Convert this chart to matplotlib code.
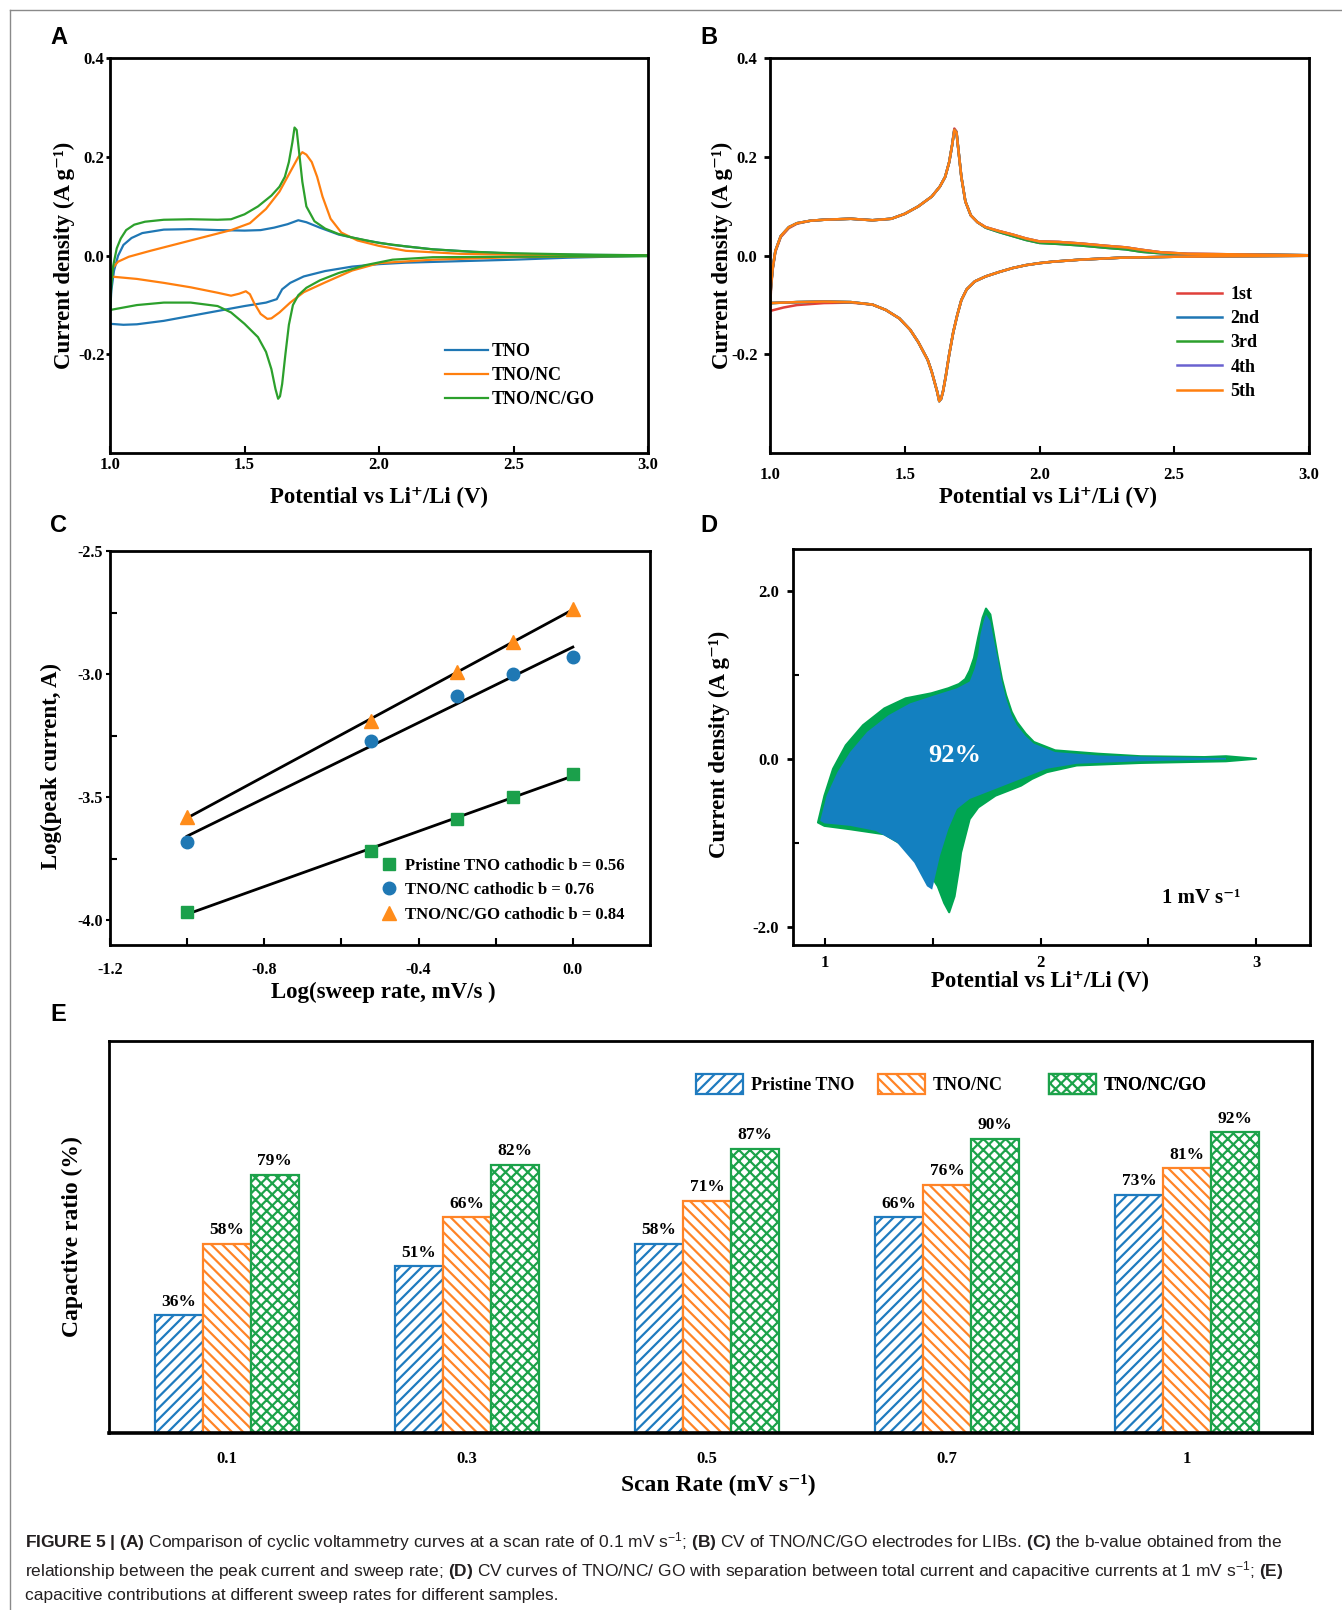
import matplotlib
matplotlib.use('Agg')
import matplotlib.pyplot as plt
import numpy as np
from matplotlib.lines import Line2D

# ---------------- data ----------------
# Panel A : CV curves at 0.1 mV/s (anodic "up" branch 1->3 V, cathodic "dn" branch 3->1 V)
A_TNO_up_x = [1.0, 1.005, 1.015, 1.03, 1.05, 1.08, 1.12, 1.2, 1.3, 1.4, 1.5, 1.56, 1.61, 1.66, 1.70, 1.73, 1.78, 1.85, 1.95, 2.05, 2.2, 2.35, 2.5, 2.7, 3.0]
A_TNO_up_y = [-0.12, -0.07, -0.03, 0.0, 0.022, 0.036, 0.046, 0.053, 0.054, 0.052, 0.051, 0.052, 0.057, 0.064, 0.072, 0.068, 0.057, 0.043, 0.031, 0.022, 0.013, 0.008, 0.004, 0.002, 0.001]
A_TNO_dn_x = [3.0, 2.7, 2.5, 2.3, 2.1, 2.0, 1.9, 1.8, 1.72, 1.67, 1.64, 1.62, 1.58, 1.5, 1.4, 1.3, 1.2, 1.1, 1.05, 1.0]
A_TNO_dn_y = [0.0, -0.004, -0.008, -0.011, -0.014, -0.017, -0.022, -0.031, -0.042, -0.055, -0.068, -0.088, -0.095, -0.102, -0.112, -0.122, -0.132, -0.139, -0.14, -0.138]

A_NC_up_x = [1.0, 1.01, 1.03, 1.07, 1.15, 1.25, 1.35, 1.45, 1.52, 1.58, 1.63, 1.67, 1.70, 1.715, 1.73, 1.75, 1.77, 1.79, 1.82, 1.86, 1.92, 2.0, 2.1, 2.3, 2.5, 2.8, 3.0]
A_NC_up_y = [-0.042, -0.025, -0.012, -0.002, 0.01, 0.024, 0.038, 0.052, 0.066, 0.095, 0.13, 0.17, 0.2, 0.21, 0.205, 0.19, 0.16, 0.12, 0.075, 0.047, 0.031, 0.02, 0.01, 0.004, 0.002, 0.001, 0.0]
A_NC_dn_x = [3.0, 2.5, 2.2, 2.0, 1.9, 1.8, 1.72, 1.67, 1.63, 1.6, 1.585, 1.56, 1.535, 1.52, 1.505, 1.48, 1.45, 1.4, 1.3, 1.2, 1.1, 1.0]
A_NC_dn_y = [0.0, -0.003, -0.008, -0.015, -0.03, -0.054, -0.074, -0.095, -0.115, -0.127, -0.128, -0.118, -0.095, -0.078, -0.072, -0.077, -0.081, -0.075, -0.064, -0.055, -0.047, -0.042]

A_GO_up_x = [1.0, 1.005, 1.012, 1.025, 1.04, 1.06, 1.09, 1.13, 1.2, 1.3, 1.4, 1.45, 1.5, 1.55, 1.6, 1.63, 1.65, 1.665, 1.678, 1.686, 1.694, 1.703, 1.715, 1.73, 1.76, 1.8, 1.85, 1.9, 2.0, 2.1, 2.2, 2.35, 2.5, 2.8, 3.0]
A_GO_up_y = [-0.11, -0.06, -0.02, 0.015, 0.035, 0.052, 0.063, 0.069, 0.073, 0.074, 0.073, 0.074, 0.084, 0.1, 0.122, 0.14, 0.16, 0.19, 0.23, 0.26, 0.255, 0.21, 0.15, 0.1, 0.07, 0.055, 0.044, 0.037, 0.026, 0.019, 0.013, 0.008, 0.005, 0.002, 0.001]
A_GO_dn_x = [3.0, 2.5, 2.2, 2.05, 1.95, 1.85, 1.78, 1.73, 1.7, 1.68, 1.665, 1.652, 1.64, 1.632, 1.625, 1.615, 1.6, 1.58, 1.55, 1.5, 1.45, 1.4, 1.3, 1.2, 1.1, 1.0]
A_GO_dn_y = [-0.001, -0.002, -0.003, -0.008, -0.019, -0.035, -0.05, -0.065, -0.08, -0.1, -0.14, -0.2, -0.26, -0.285, -0.29, -0.27, -0.23, -0.195, -0.165, -0.138, -0.115, -0.102, -0.095, -0.095, -0.1, -0.11]
A_labels = ['TNO', 'TNO/NC', 'TNO/NC/GO']

# Panel B : five cycles of TNO/NC/GO
B_up_x = [1.0, 1.004, 1.01, 1.02, 1.04, 1.07, 1.1, 1.15, 1.2, 1.3, 1.38, 1.45, 1.5, 1.55, 1.6, 1.63, 1.65, 1.665, 1.676, 1.684, 1.692, 1.70, 1.71, 1.725, 1.745, 1.77, 1.8, 1.85, 1.9, 1.95, 2.0, 2.07, 2.15, 2.25, 2.32, 2.38, 2.45, 2.55, 2.7, 2.85, 3.0]
B_up_y_c1 = [-0.112, -0.065, -0.028, 0.008, 0.038, 0.056, 0.065, 0.071, 0.073, 0.075, 0.072, 0.075, 0.085, 0.1, 0.12, 0.14, 0.16, 0.19, 0.225, 0.258, 0.252, 0.21, 0.16, 0.11, 0.082, 0.068, 0.058, 0.05, 0.043, 0.035, 0.029, 0.028, 0.025, 0.02, 0.017, 0.012, 0.007, 0.004, 0.003, 0.002, 0.001]
B_up_y_c23 = [-0.096, -0.06, -0.025, 0.01, 0.04, 0.058, 0.066, 0.071, 0.073, 0.075, 0.072, 0.075, 0.085, 0.1, 0.12, 0.14, 0.16, 0.19, 0.225, 0.255, 0.25, 0.21, 0.16, 0.11, 0.082, 0.068, 0.057, 0.048, 0.04, 0.032, 0.026, 0.024, 0.021, 0.016, 0.013, 0.008, 0.005, 0.003, 0.002, 0.002, 0.001]
B_up_y_c45 = [-0.096, -0.06, -0.025, 0.01, 0.04, 0.058, 0.066, 0.071, 0.073, 0.075, 0.072, 0.075, 0.085, 0.1, 0.12, 0.14, 0.16, 0.19, 0.225, 0.255, 0.25, 0.21, 0.16, 0.11, 0.082, 0.068, 0.058, 0.05, 0.043, 0.035, 0.029, 0.028, 0.025, 0.02, 0.017, 0.012, 0.007, 0.004, 0.003, 0.002, 0.001]
B_dn_x = [3.0, 2.7, 2.5, 2.3, 2.15, 2.05, 2.0, 1.95, 1.9, 1.85, 1.8, 1.76, 1.73, 1.71, 1.695, 1.68, 1.665, 1.652, 1.642, 1.635, 1.628, 1.62, 1.61, 1.6, 1.585, 1.55, 1.52, 1.48, 1.43, 1.38, 1.3, 1.2, 1.1, 1.05, 1.0]
B_dn_y_c1 = [0.0, -0.001, -0.002, -0.004, -0.008, -0.012, -0.015, -0.019, -0.025, -0.033, -0.042, -0.052, -0.068, -0.09, -0.12, -0.155, -0.2, -0.245, -0.275, -0.29, -0.293, -0.275, -0.255, -0.235, -0.211, -0.175, -0.15, -0.127, -0.11, -0.099, -0.095, -0.096, -0.1, -0.105, -0.112]
B_dn_y = [0.0, -0.001, -0.002, -0.004, -0.008, -0.012, -0.015, -0.019, -0.025, -0.033, -0.042, -0.052, -0.068, -0.09, -0.12, -0.155, -0.2, -0.245, -0.275, -0.29, -0.295, -0.275, -0.255, -0.235, -0.211, -0.175, -0.15, -0.127, -0.11, -0.099, -0.094, -0.093, -0.094, -0.095, -0.096]
B_labels = ['1st', '2nd', '3rd', '4th', '5th']

# Panel C : log(peak current) vs log(sweep rate)
C_x = [-1.0, -0.523, -0.301, -0.155, 0.0]
C_TNO = [-3.967, -3.72, -3.587, -3.50, -3.405]
C_NC = [-3.68, -3.27, -3.09, -3.0, -2.93]
C_GO = [-3.58, -3.19, -2.99, -2.87, -2.735]
C_labels = ['Pristine TNO cathodic b = 0.56', 'TNO/NC cathodic b = 0.76', 'TNO/NC/GO cathodic b = 0.84']

# Panel D : total (green) and capacitive (blue) CV at 1 mV/s
D_tot_x = [0.966, 0.996, 1.036, 1.095, 1.175, 1.274, 1.373, 1.492, 1.571, 1.62, 1.65, 1.67, 1.69, 1.71, 1.73, 1.746, 1.766, 1.78, 1.80, 1.82, 1.839, 1.865, 1.889, 1.93, 1.968, 2.067, 2.266, 2.464, 2.76, 2.86, 3.0,
           2.86, 2.464, 2.167, 2.028, 1.96, 1.909, 1.85, 1.79, 1.71, 1.67, 1.65, 1.63, 1.62, 1.60, 1.575, 1.552, 1.522, 1.472, 1.393, 1.274, 1.115, 0.996]
D_tot_y = [-0.76, -0.44, -0.12, 0.16, 0.40, 0.60, 0.72, 0.78, 0.84, 0.89, 0.95, 1.05, 1.2, 1.45, 1.68, 1.79, 1.72, 1.52, 1.22, 0.95, 0.76, 0.56, 0.44, 0.30, 0.20, 0.10, 0.06, 0.03, 0.02, 0.03, 0.0,
           -0.03, -0.05, -0.08, -0.16, -0.24, -0.32, -0.38, -0.44, -0.58, -0.72, -0.92, -1.12, -1.32, -1.64, -1.83, -1.72, -1.52, -1.32, -1.08, -0.90, -0.84, -0.80]
D_cap_x = [0.976, 1.006, 1.056, 1.115, 1.194, 1.294, 1.393, 1.512, 1.611, 1.67, 1.694, 1.71, 1.72, 1.735, 1.746, 1.766, 1.78, 1.80, 1.82, 1.839, 1.865, 1.889, 1.93, 1.968, 2.067, 2.266, 2.563, 2.86,
           2.86, 2.464, 2.167, 2.028, 1.909, 1.79, 1.67, 1.611, 1.571, 1.532, 1.496, 1.472, 1.413, 1.333, 1.234, 1.115, 0.996]
D_cap_y = [-0.74, -0.44, -0.16, 0.08, 0.32, 0.52, 0.66, 0.76, 0.84, 0.92, 1.08, 1.25, 1.48, 1.64, 1.72, 1.64, 1.45, 1.20, 0.92, 0.72, 0.52, 0.40, 0.27, 0.18, 0.08, 0.04, 0.02, 0.01,
           -0.01, -0.03, -0.06, -0.12, -0.24, -0.36, -0.48, -0.60, -0.84, -1.16, -1.56, -1.52, -1.24, -1.00, -0.86, -0.80, -0.77]
D_ratio = '92%'

# Panel E : capacitive ratio
E_rates = ['0.1', '0.3', '0.5', '0.7', '1']
E_TNO = [36, 51, 58, 66, 73]
E_NC = [58, 66, 71, 76, 81]
E_GO = [79, 82, 87, 90, 92]
E_labels = ['Pristine TNO', 'TNO/NC', 'TNO/NC/GO']

caption_lines = [
    r"$\mathbf{FIGURE\ 5\ |\ (A)}$ Comparison of cyclic voltammetry curves at a scan rate of 0.1 mV s$^{-1}$; $\mathbf{(B)}$ CV of TNO/NC/GO electrodes for LIBs. $\mathbf{(C)}$ the b-value obtained from the",
    r"relationship between the peak current and sweep rate; $\mathbf{(D)}$ CV curves of TNO/NC/ GO with separation between total current and capacitive currents at 1 mV s$^{-1}$; $\mathbf{(E)}$",
    r"capacitive contributions at different sweep rates for different samples.",
]

# ---------------- style ----------------
SERIF = ['Liberation Serif', 'DejaVu Serif']
SANS = ['Liberation Sans', 'DejaVu Sans']
plt.rcParams.update({
    'font.family': SERIF,
    'font.weight': 'bold',
    'axes.unicode_minus': False,
    'mathtext.fontset': 'custom',
    'mathtext.rm': 'Liberation Sans:weight=normal',
    'mathtext.it': 'Liberation Sans:style=italic:weight=normal',
    'mathtext.bf': 'Liberation Sans:weight=bold',
    'mathtext.sf': 'Liberation Sans:weight=normal',
    'hatch.linewidth': 1.6,
})

BLUE = '#1f77b4'
ORANGE = '#ff7f0e'
GREEN = '#2ca02c'
RED = '#e0403a'
PURPLE = '#6a62d0'

W, H = 1342, 1610
fig = plt.figure(figsize=(W / 100, H / 100), dpi=100)


def rect(l, t, r, b):
    return [l / W, 1 - b / H, (r - l) / W, (b - t) / H]


def spines(ax, lw=2.0):
    for s in ax.spines.values():
        s.set_linewidth(lw)


def set_xlabel_px(ax, text, ycen, l, t, r, b, size=16.5, xcen=None):
    ax.set_xlabel(text, fontsize=size, fontweight='bold')
    xa = 0.5 if xcen is None else (xcen - l) / (r - l)
    ax.xaxis.set_label_coords(xa, 1 - (ycen - t) / (b - t))
    ax.xaxis.label.set_verticalalignment('center')


def set_ylabel_px(ax, text, xcen, l, t, r, b, size=16.5, ycen=None):
    ax.set_ylabel(text, fontsize=size, fontweight='bold')
    ya = 0.5 if ycen is None else 1 - (ycen - t) / (b - t)
    ax.yaxis.set_label_coords((xcen - l) / (r - l), ya)
    ax.yaxis.label.set_verticalalignment('center')


# figure frame lines
fig.add_artist(Line2D([10 / W, 10 / W], [0, 1 - 10 / H], transform=fig.transFigure, color='#8a8a8a', lw=1.0))
fig.add_artist(Line2D([10 / W, 1], [1 - 10 / H, 1 - 10 / H], transform=fig.transFigure, color='#8a8a8a', lw=1.0))

# panel letters
for letter, (px, py) in zip('ABCDE', [(58.5, 37), (708.5, 37), (58.5, 525), (708.5, 525), (58.5, 1014)]):
    fig.text(px / W, 1 - py / H, letter, family=SANS, fontweight='bold', fontsize=17, ha='center', va='center')

# ---------------- Panel A ----------------
L, T, R, B = 110, 58.5, 648, 453
axA = fig.add_axes(rect(L, T, R, B))
for ux, uy, dx, dy, c, lab in [(A_TNO_up_x, A_TNO_up_y, A_TNO_dn_x, A_TNO_dn_y, BLUE, A_labels[0]),
                               (A_NC_up_x, A_NC_up_y, A_NC_dn_x, A_NC_dn_y, ORANGE, A_labels[1]),
                               (A_GO_up_x, A_GO_up_y, A_GO_dn_x, A_GO_dn_y, GREEN, A_labels[2])]:
    axA.plot(ux + dx, uy + dy, color=c, lw=1.6, label=lab)
axA.set_xlim(1.0, 3.0)
axA.set_ylim(-0.4, 0.4)
axA.set_xticks([1.0, 1.5, 2.0, 2.5, 3.0])
axA.set_yticks([-0.2, 0.0, 0.2, 0.4])
axA.yaxis.set_major_formatter(matplotlib.ticker.FormatStrFormatter('%.1f'))
axA.xaxis.set_major_formatter(matplotlib.ticker.FormatStrFormatter('%.1f'))
axA.tick_params(axis='x', direction='in', length=5, width=1.5, labelsize=12, pad=3)
axA.tick_params(axis='y', direction='out', length=3, width=2, labelsize=12, pad=1)
spines(axA)
set_xlabel_px(axA, 'Potential vs Li⁺/Li (V)', 497, L, T, R, B)
set_ylabel_px(axA, 'Current density (A g⁻¹)', 64, L, T, R, B)
axA.legend(loc='upper left', bbox_to_anchor=((445 - L) / (R - L), 1 - (343 - T) / (B - T)), frameon=False,
           fontsize=13, handlelength=2.4, handletextpad=0.17, labelspacing=0.4, borderpad=0, borderaxespad=0)

# ---------------- Panel B ----------------
L, T, R, B = 770, 58.5, 1309, 453
axB = fig.add_axes(rect(L, T, R, B))
for uy, dy, c, lab in [(B_up_y_c1, B_dn_y_c1, RED, B_labels[0]),
                       (B_up_y_c23, B_dn_y, BLUE, B_labels[1]),
                       (B_up_y_c23, B_dn_y, GREEN, B_labels[2]),
                       (B_up_y_c45, B_dn_y, PURPLE, B_labels[3]),
                       (B_up_y_c45, B_dn_y, ORANGE, B_labels[4])]:
    axB.plot(B_up_x + B_dn_x, uy + dy, color=c, lw=1.8, label=lab)
axB.set_xlim(1.0, 3.0)
axB.set_ylim(-0.4, 0.4)
axB.set_xticks([1.0, 1.5, 2.0, 2.5, 3.0])
axB.set_yticks([-0.2, 0.0, 0.2, 0.4])
axB.yaxis.set_major_formatter(matplotlib.ticker.FormatStrFormatter('%.1f'))
axB.xaxis.set_major_formatter(matplotlib.ticker.FormatStrFormatter('%.1f'))
axB.tick_params(axis='x', direction='in', length=5, width=1.5, labelsize=12, pad=10)
axB.tick_params(axis='y', direction='out', length=4, width=2, labelsize=12, pad=5)
spines(axB)
set_xlabel_px(axB, 'Potential vs Li⁺/Li (V)', 497, L, T, R, B, xcen=1048)
set_ylabel_px(axB, 'Current density (A g⁻¹)', 722, L, T, R, B)
axB.legend(loc='upper left', bbox_to_anchor=((1177 - L) / (R - L), 1 - (286 - T) / (B - T)), frameon=False,
           fontsize=13, handlelength=2.5, handletextpad=0.45, labelspacing=0.4, borderpad=0, borderaxespad=0)

# ---------------- Panel C ----------------
L, T, R, B = 110, 551, 650, 945
axC = fig.add_axes(rect(L, T, R, B))
for ys, c, m, ms, lab in [(C_TNO, '#1ba04b', 's', 8, C_labels[0]),
                          (C_NC, '#1f78b4', 'o', 9, C_labels[1]),
                          (C_GO, '#ff8c1a', '^', 10, C_labels[2])]:
    coef = np.polyfit(C_x, ys, 1)
    xx = np.array([C_x[0], C_x[-1]])
    axC.plot(xx, np.polyval(coef, xx), color='black', lw=2, zorder=2)
    axC.plot(C_x, ys, linestyle='none', marker=m, ms=ms, color=c, mec=c, label=lab, zorder=3)
axC.set_xlim(-1.2, 0.2)
axC.set_ylim(-4.1, -2.5)
axC.set_xticks([-1.2, -0.8, -0.4, 0.0])
axC.set_xticks([-1.0, -0.6, -0.2], minor=True)
axC.set_yticks([-4.0, -3.5, -3.0, -2.5])
axC.set_yticks([-3.75, -3.25, -2.75], minor=True)
axC.xaxis.set_major_formatter(matplotlib.ticker.FormatStrFormatter('%.1f'))
axC.yaxis.set_major_formatter(matplotlib.ticker.FormatStrFormatter('%.1f'))
axC.tick_params(axis='x', which='both', direction='in', length=5, width=1.5, labelsize=11.5, pad=12)
axC.tick_params(axis='y', which='major', direction='out', length=3, width=1.5, labelsize=11.5, pad=2)
axC.tick_params(axis='y', which='minor', direction='in', length=5, width=1.5)
spines(axC)
set_xlabel_px(axC, 'Log(sweep rate, mV/s )', 992, L, T, R, B, xcen=383)
set_ylabel_px(axC, 'Log(peak current, A)', 51, L, T, R, B, ycen=766)
axC.legend(loc='upper left', bbox_to_anchor=((381 - L) / (R - L), 1 - (858 - T) / (B - T)), frameon=False,
           fontsize=12, handlelength=1.0, handletextpad=0.44, labelspacing=0.5, borderpad=0, borderaxespad=0,
           numpoints=1)

# ---------------- Panel D ----------------
L, T, R, B = 793, 549, 1310, 945
axD = fig.add_axes(rect(L, T, R, B))
axD.fill(D_tot_x, D_tot_y, facecolor='#00a651', edgecolor='#00a651', lw=1.5, joinstyle='round', zorder=2)
axD.fill(D_cap_x, D_cap_y, facecolor='#1380c0', edgecolor='none', lw=0, zorder=3)
axD.text((955 - L) / (R - L), 1 - (755 - T) / (B - T), D_ratio, transform=axD.transAxes, color='white',
         fontsize=19, fontweight='bold', ha='center', va='center', zorder=4)
axD.text((1201 - L) / (R - L), 1 - (898 - T) / (B - T), '1 mV s⁻¹', transform=axD.transAxes,
         fontsize=15, fontweight='bold', ha='center', va='center')
axD.set_xlim(0.85, 3.25)
axD.set_ylim(-2.22, 2.5)
axD.set_xticks([1, 2, 3])
axD.set_xticks([1.5, 2.5], minor=True)
axD.set_yticks([-2.0, 0.0, 2.0])
axD.set_yticks([-1.0, 1.0], minor=True)
axD.yaxis.set_major_formatter(matplotlib.ticker.FormatStrFormatter('%.1f'))
axD.tick_params(axis='x', which='both', direction='in', length=5, width=1.5, labelsize=12, pad=7)
axD.tick_params(axis='y', which='major', direction='out', length=4, width=2, labelsize=12, pad=6)
axD.tick_params(axis='y', which='minor', direction='in', length=4, width=1.5)
spines(axD)
set_xlabel_px(axD, 'Potential vs Li⁺/Li (V)', 981, L, T, R, B, xcen=1040)
set_ylabel_px(axD, 'Current density (A g⁻¹)', 719, L, T, R, B, ycen=744)

# ---------------- Panel E ----------------
L, T, R, B = 109, 1041, 1312, 1433
axE = fig.add_axes(rect(L, T, R, B))
xpos = np.arange(len(E_rates))
bw = 0.2
bars = []
for vals, off, c, h, lab in [(E_TNO, -bw, '#1f7bbf', '///', E_labels[0]),
                             (E_NC, 0.0, '#ff8427', '\\\\\\', E_labels[1]),
                             (E_GO, bw, '#1ca24a', 'xxx', E_labels[2])]:
    bc = axE.bar(xpos + off, vals, width=bw, facecolor='white', edgecolor=c, hatch=h, lw=1.6, label=lab)
    bars.append(bc)
    for xv, v in zip(xpos + off, vals):
        axE.text(xv, v + 1.8, f'{v}%', ha='center', va='bottom', fontsize=12.5, fontweight='bold')
axE.set_xlim(-0.49, 4.52)
axE.set_ylim(0, 120)
axE.set_xticks(xpos)
axE.set_xticklabels(E_rates)
axE.set_yticks([])
axE.tick_params(axis='x', length=0, labelsize=12, pad=13)
spines(axE, 2.0)
axE.spines['bottom'].set_linewidth(2.6)
set_xlabel_px(axE, 'Scan Rate (mV s⁻¹)', 1484, L, T, R, B, size=17, xcen=718)
set_ylabel_px(axE, 'Capactive ratio (%)', 72, L, T, R, B, size=17)
for bc, lab, px in zip(bars, E_labels, [696, 878, 1049]):
    lg = axE.legend([bc], [lab], loc='center left', bbox_to_anchor=((px - L) / (R - L), 1 - (1084 - T) / (B - T)),
                    frameon=False, fontsize=13, handlelength=2.6, handleheight=1.3, handletextpad=0.45,
                    borderpad=0, borderaxespad=0)
    axE.add_artist(lg)

# ---------------- caption ----------------
for line, py in zip(caption_lines, [1547, 1576, 1600]):
    fig.text(25 / W, 1 - py / H, line, family=SANS, fontweight='normal', fontsize=12.5, color='#231f20',
             ha='left', va='baseline')

fig.savefig('out.png', dpi=100)
